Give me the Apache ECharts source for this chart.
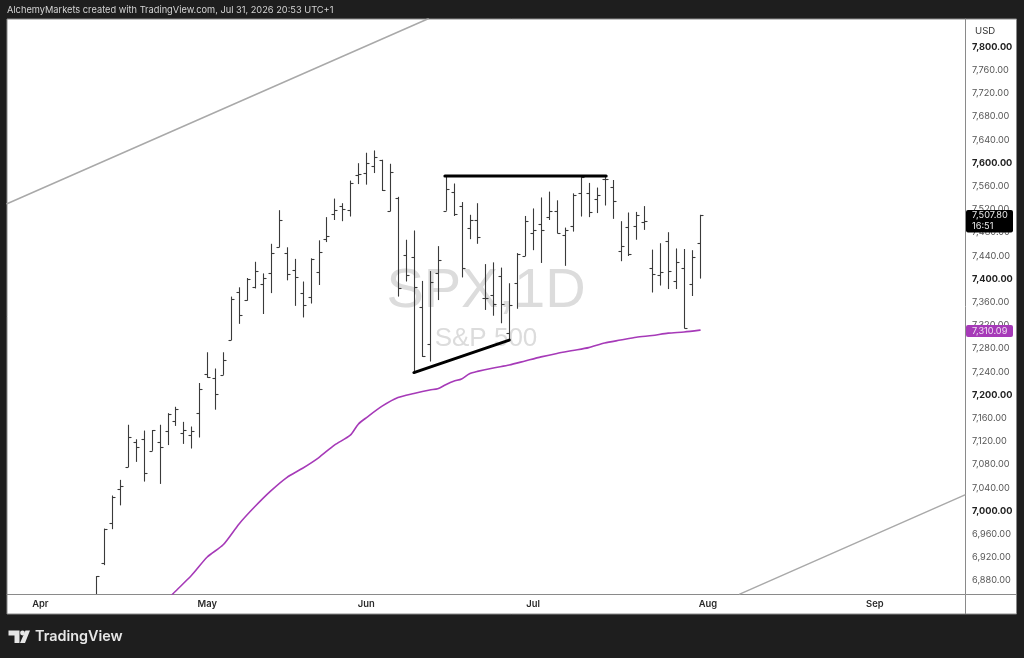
<!DOCTYPE html>
<html>
<head>
<meta charset="utf-8">
<style>html,body{margin:0;padding:0;background:#1e1e1e}#c{width:1024px;height:658px}</style>
<script src="https://cdn.jsdelivr.net/npm/echarts@6/dist/echarts.min.js"></script>
</head>
<body>
<div id="c"></div>
<script>
// Daily bars: index 0 = first visible bar, index 76 = Jul 31
const opens = [6828,6909,6978,7037,7074,7117,7122,7102,7118,7136,7153,7133,7130,7168,7234,7228,7233,7293,7376,7362,7384,7390,7408,7453,7444,7414,7375,7368,7410,7468,7510,7525,7518,7578,7581,7594,7604,7515,7538,7439,7437,7350,7287,7409,7516,7548,7525,7486,7500,7366,7370,7404,7305,7391,7438,7477,7494,7505,7515,7475,7490,7546,7546,7536,7571,7557,7447,7488,7489,7497,7417,7405,7463,7395,7417,7389,7461];
const highs = [6886,6968,7025,7052,7147,7122,7137,7138,7147,7167,7178,7152,7144,7219,7272,7244,7272,7368,7384,7400,7428,7408,7459,7517,7453,7433,7394,7434,7465,7505,7537,7529,7568,7598,7616,7620,7604,7597,7540,7466,7482,7395,7412,7455,7577,7563,7531,7509,7529,7424,7427,7418,7391,7443,7507,7520,7539,7549,7534,7487,7546,7576,7564,7556,7576,7569,7498,7513,7514,7524,7449,7460,7479,7451,7450,7448,7509];
const lows = [6820,6905,6967,7008,7074,7083,7049,7102,7045,7112,7145,7114,7106,7125,7228,7173,7233,7293,7321,7361,7382,7338,7374,7453,7396,7352,7332,7356,7388,7462,7500,7498,7506,7562,7561,7581,7550,7515,7368,7394,7237,7264,7256,7362,7516,7507,7401,7467,7459,7345,7335,7322,7293,7347,7438,7448,7426,7500,7477,7421,7480,7506,7505,7512,7525,7502,7429,7438,7466,7483,7375,7387,7381,7381,7313,7369,7399];
const closes = [6886,6967,7023,7041,7126,7108,7063,7138,7108,7166,7174,7138,7136,7208,7229,7200,7258,7364,7336,7399,7412,7400,7443,7500,7407,7402,7353,7433,7445,7472,7518,7519,7563,7579,7599,7609,7551,7583,7383,7405,7385,7266,7393,7431,7553,7510,7418,7500,7471,7365,7356,7356,7353,7441,7498,7482,7482,7515,7478,7482,7544,7575,7514,7543,7571,7532,7456,7441,7508,7498,7407,7411,7412,7428,7314,7437,7507.8];
// Moving average read at bar indexes
const maIndex = [9,10,12,14,16,18,20,22,24,26,28,30,32,33,34,36,38,40,42,43,44,45,46,47,48,50,52,54,56,58,60,62,64,66,68,70,72,74,76];
const maValues = [6846,6860,6887,6919,6940,6976,7006,7033,7056,7072,7090,7112,7129,7148,7159,7179,7194,7201,7207,7209,7216,7222,7226,7235,7239,7245,7250,7257,7264,7270,7275,7280,7288,7293,7298,7301,7305,7307,7310.09];
// Drawn trend lines as [bar index, price] pairs
const resistance = [[43.9,7576],[64.2,7576]];
const support = [[40,7237],[52,7293]];
const channelUpper = [[-11.2,7528],[41.8,7847]];
const channelLower = [[81,6855],[109.35,7026]];
// Axis labels
const priceTicks = [6880,6920,6960,7000,7040,7080,7120,7160,7200,7240,7280,7320,7360,7400,7440,7480,7520,7560,7600,7640,7680,7720,7760,7800];
const monthTicks = [-7,14,34,55,77,98];
const monthLabels = ['Apr','May','Jun','Jul','Aug','Sep'];
const lastPrice = 7507.80;
const maPrice = 7310.09;

const fmt = v => v.toLocaleString('en-US',{minimumFractionDigits:2,maximumFractionDigits:2});
const barRows = opens.map((o,i)=>[i,o,highs[i],lows[i],closes[i]]);
const ui = '"Inter","Liberation Sans",sans-serif';

const chart = echarts.init(document.getElementById('c'),null,{renderer:'canvas'});
const trend = (name,data,color,width,z,smooth)=>({name,type:'line',data,symbol:'none',z,silent:true,smooth:smooth||false,
  lineStyle:{color,width,cap:'round'},clip:true,animation:false});

chart.setOption({
  animation:false,
  backgroundColor:'#1e1e1e',
  grid:{left:7,right:59,top:19,bottom:64,show:false},
  xAxis:{type:'value',min:-11.2,max:109.35,
    axisLine:{show:true,onZero:false,lineStyle:{color:'#8a8a8a',width:1}},
    axisTick:{show:false},splitLine:{show:false},
    axisLabel:{customValues:monthTicks,margin:6,fontFamily:ui,fontSize:9.4,fontWeight:600,color:'#2a2a2a',
      formatter:v=>monthLabels[monthTicks.indexOf(v)]||''}},
  yAxis:{type:'value',position:'right',min:6855.2,max:7846.6,
    axisLine:{show:true,onZero:false,lineStyle:{color:'#8a8a8a',width:1}},
    axisTick:{show:false},splitLine:{show:false},
    axisLabel:{customValues:priceTicks,margin:7,align:'left',padding:[2,0,0,0],fontFamily:ui,fontSize:9.2,color:'#555',
      formatter:v=>v%200===0?'{b|'+fmt(v)+'}':fmt(v),
      rich:{b:{fontFamily:ui,fontSize:9.2,fontWeight:700,color:'#222'}}}},
  graphic:{elements:[
    {type:'rect',z:-20,silent:true,shape:{x:7,y:19,width:1009.5,height:595},style:{fill:'#fff',stroke:'#8a8a8a',lineWidth:1}},
    {type:'line',z:50,silent:true,shape:{x1:965.5,y1:594.5,x2:1016.5,y2:594.5},style:{stroke:'#8a8a8a',lineWidth:1}},
    {type:'line',z:50,silent:true,shape:{x1:965.5,y1:594.5,x2:965.5,y2:614},style:{stroke:'#8a8a8a',lineWidth:1}},
    {type:'text',z:-10,silent:true,style:{x:486,y:292,text:'SPX,1D',fill:'#dcdcdc',font:'56px "Liberation Sans",sans-serif',textAlign:'center',textVerticalAlign:'middle'}},
    {type:'text',z:-10,silent:true,style:{x:486,y:339,text:'S&P 500',fill:'#dcdcdc',font:'26px "Liberation Sans",sans-serif',textAlign:'center',textVerticalAlign:'middle'}},
    {type:'text',z:50,silent:true,style:{x:7,y:10.5,text:'AlchemyMarkets created with TradingView.com, Jul 31, 2026 20:53 UTC+1',fill:'#d4d4d4',font:'9.25px '+ui,textVerticalAlign:'middle'}},
    {type:'text',z:50,silent:true,style:{x:975,y:31,text:'USD',fill:'#333',font:'9.6px '+ui,textVerticalAlign:'middle'}},
    {type:'rect',z:60,silent:true,shape:{x:966,y:210,width:47,height:22.5,r:2},style:{fill:'#000'}},
    {type:'text',z:61,silent:true,style:{x:972,y:215.5,text:fmt(lastPrice),fill:'#e8e8e8',font:'9.2px '+ui,textVerticalAlign:'middle'}},
    {type:'text',z:61,silent:true,style:{x:972,y:226.5,text:'16:51',fill:'#e8e8e8',font:'9.2px '+ui,textVerticalAlign:'middle'}},
    {type:'rect',z:60,silent:true,shape:{x:966,y:325,width:47,height:12,r:2},style:{fill:'#a63ab8'}},
    {type:'text',z:61,silent:true,style:{x:972,y:331,text:fmt(maPrice),fill:'#f0e0f2',font:'9.2px '+ui,textVerticalAlign:'middle'}},
    {type:'polygon',z:50,silent:true,shape:{points:[[8.5,630.5],[19.5,630.5],[19.5,643],[14.5,643],[14.5,635.5],[8.5,635.5]]},style:{fill:'#e6e6e6'}},
    {type:'circle',z:50,silent:true,shape:{cx:22.5,cy:633,r:2.4},style:{fill:'#e6e6e6'}},
    {type:'polygon',z:50,silent:true,shape:{points:[[25.5,630.5],[30,630.5],[25,643],[20,643]]},style:{fill:'#e6e6e6'}},
    {type:'text',z:50,silent:true,style:{x:35,y:637,text:'TradingView',fill:'#e6e6e6',font:'600 14.4px '+ui,textVerticalAlign:'middle'}}
  ]},
  series:[
    {type:'custom',name:'SPX',z:3,silent:true,clip:true,data:barRows,
      encode:{x:0,y:[1,2,3,4]},
      renderItem:(p,api)=>{
        const i=api.value(0);
        const xy=v=>api.coord([i,v]);
        const x=Math.round(xy(0)[0])+0.5;
        const st={stroke:'#3a3a3a',lineWidth:1.1,fill:'none'};
        const yO=Math.round(xy(api.value(1))[1])+0.5, yH=xy(api.value(2))[1], yL=xy(api.value(3))[1], yC=Math.round(xy(api.value(4))[1])+0.5;
        return {type:'group',children:[
          {type:'line',shape:{x1:x,y1:yH,x2:x,y2:yL},style:st},
          {type:'line',shape:{x1:x-3,y1:yO,x2:x,y2:yO},style:st},
          {type:'line',shape:{x1:x,y1:yC,x2:x+3,y2:yC},style:st}
        ]};
      }},
    trend('MA',maIndex.map((x,i)=>[x,maValues[i]]),'#a63ab8',1.6,4,0.25),
    trend('Resistance',resistance,'#000',3,5),
    trend('Support',support,'#000',3,5),
    trend('Channel upper',channelUpper,'#a9a9a9',1.5,2),
    trend('Channel lower',channelLower,'#a9a9a9',1.5,2)
  ]
});
</script>
</body>
</html>
